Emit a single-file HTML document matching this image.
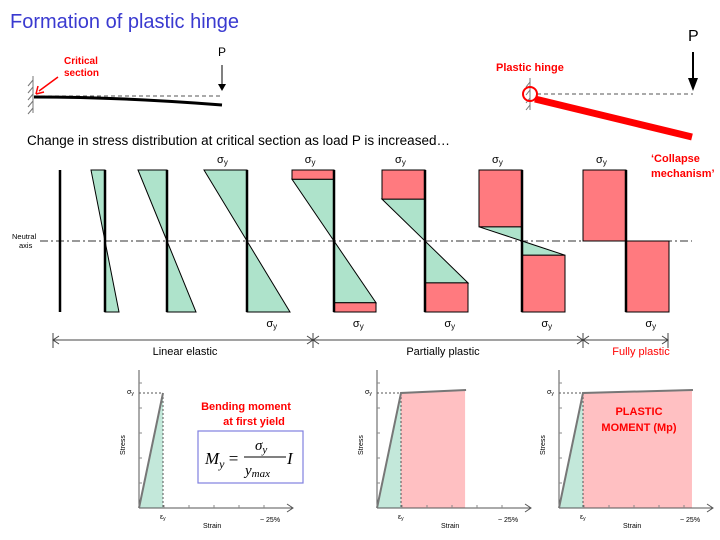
<!DOCTYPE html>
<html><head><meta charset="utf-8"><style>
body{margin:0;background:#fff}
svg{display:block;font-family:"Liberation Sans",sans-serif}
</style></head><body>
<svg id="s" width="720" height="540" viewBox="0 0 720 540">
<text x="10" y="28" font-size="20" fill="#3a3ad0">Formation of plastic hinge</text>
<g>
<line x1="33" y1="76" x2="33" y2="113" stroke="#777" stroke-width="1"/>
<path d="M33,80l-5,6M33,87l-5,6M33,94l-5,6M33,101l-5,6M33,108l-5,6" stroke="#777"/>
<line x1="34" y1="96" x2="222" y2="96" stroke="#555" stroke-dasharray="4,3"/>
<path d="M34,97 Q120,97 222,105" stroke="#000" stroke-width="3" fill="none"/>
<line x1="222" y1="65" x2="222" y2="86" stroke="#000"/><path d="M218,84 L222,91 L226,84Z"/>
<text x="218" y="56" font-size="12">P</text>
<text x="64" y="64" font-size="10" fill="#f00" font-weight="bold">Critical</text>
<text x="64" y="76" font-size="10" fill="#f00" font-weight="bold">section</text>
<line x1="58" y1="77" x2="39" y2="91" stroke="#f00" stroke-width="1.5"/><path d="M36,94 L38,86 M36,94 L44,92" stroke="#f00" stroke-width="1.5"/>
</g>
<g>
<line x1="530" y1="78" x2="530" y2="110" stroke="#777"/>
<path d="M530,82l-4,5M530,90l-4,5M530,98l-4,5M530,105l-4,5" stroke="#777"/>
<line x1="537" y1="94" x2="693" y2="94" stroke="#555" stroke-dasharray="4,3"/>
<line x1="535" y1="99" x2="692" y2="137" stroke="#f00" stroke-width="7"/>
<circle cx="530" cy="94" r="7" fill="none" stroke="#f00" stroke-width="2"/>
<line x1="693" y1="52" x2="693" y2="80" stroke="#000" stroke-width="2"/><path d="M688,78 L693,91 L698,78Z"/>
<text x="688" y="41" font-size="16">P</text>
<text x="496" y="71" font-size="11" fill="#f00" font-weight="bold">Plastic hinge</text>
<text x="651" y="162" font-size="11" fill="#f00" font-weight="bold">‘Collapse</text>
<text x="651" y="177" font-size="11" fill="#f00" font-weight="bold">mechanism’</text>
</g>
<text x="27" y="145" font-size="13.5" fill="#000">Change in stress distribution at critical section as load P is increased…</text>
<g id="stress"></g>
<g id="charts"></g>
</svg>
<script>
const axisX=[105,167,247,334,425,522,626];
const peakWidth=[14,29,43,42,43,43,43];
const plasticDepth=[0,0,0,0.13,0.41,0.8,1.0];
const showSigma=[false,false,true,true,true,true,true];
const chartOrigin=[139,377,559];
const yieldStrain=[1,1,1];
const plateauEnd=[0,3.67,5.54];
const ns='http://www.w3.org/2000/svg';
function mk(p,t,a){const e=document.createElementNS(ns,t);for(const k in a)e.setAttribute(k,a[k]);p.appendChild(e);return e;}
const S=document.getElementById('stress');
const sTop=170,sBot=312,na=241,half=71;
mk(S,'line',{x1:40,y1:na,x2:692,y2:na,stroke:'#333','stroke-dasharray':'8,3,2,3'});
mk(S,'line',{x1:60,y1:sTop,x2:60,y2:sBot,stroke:'#000','stroke-width':2.5});
const t1=mk(S,'text',{x:12,y:239,'font-size':7.5});t1.textContent='Neutral';
const t2=mk(S,'text',{x:19,y:248,'font-size':7.5});t2.textContent='axis';
const G='#aee3cb',R='#ff7a7f';
axisX.forEach((x,i)=>{
 const w=peakWidth[i],d=plasticDepth[i];
 const g=mk(S,'g',{});
 
 
 const yT=na-half*(1-d), yb=na+half*(1-d);
 if(d<1){
  mk(g,'polygon',{points:`${x-w},${yT} ${x},${yT} ${x},${na}`,fill:G,stroke:'#000','stroke-width':1});
  mk(g,'polygon',{points:`${x},${na} ${x},${yb} ${x+w},${yb}`,fill:G,stroke:'#000','stroke-width':1});
 }
 if(d>0){
  mk(g,'rect',{x:x-w,y:sTop,width:w,height:yT-sTop,fill:R,stroke:'#000','stroke-width':1});
  mk(g,'rect',{x:x,y:yb,width:w,height:sBot-yb,fill:R,stroke:'#000','stroke-width':1});
 }
 mk(g,'line',{x1:x,y1:sTop,x2:x,y2:sBot,stroke:'#000','stroke-width':2.5});
 if(showSigma[i]){
  const a=mk(g,'text',{x:x-w-2+w*0.35,y:163,'font-size':11});a.innerHTML='σ<tspan font-size="8" dy="2">y</tspan>';
  const b=mk(g,'text',{x:x+w*0.45,y:327,'font-size':11});b.innerHTML='σ<tspan font-size="8" dy="2">y</tspan>';
 }
});
mk(S,'line',{x1:53,y1:340,x2:668,y2:340,stroke:'#444'});
[53,313,583,668].forEach(x=>mk(S,'line',{x1:x,y1:333,x2:x,y2:348,stroke:'#444'}));
[[53,1],[313,-1],[313,1],[583,-1],[583,1],[668,-1]].forEach(([x,s])=>mk(S,'path',{d:`M${x+6*s},336 L${x},340 L${x+6*s},344`,stroke:'#444',fill:'none'}));
[['Linear elastic',185,'#000'],['Partially plastic',443,'#000'],['Fully plastic',641,'#f00']].forEach(([t,x,c])=>{const e=mk(S,'text',{x:x,y:355,'font-size':11,'text-anchor':'middle',fill:c});e.textContent=t;});
const C=document.getElementById('charts');
const oy=508,sy=393,ex=24;
chartOrigin.forEach((ox,i)=>{
 const g=mk(C,'g',{});
 
 
 const yx=ox+ex*yieldStrain[i], px=ox+ex*plateauEnd[i];
 mk(g,'polygon',{points:`${ox},${oy} ${yx},${sy} ${yx},${oy}`,fill:'#c3e8da'});
 if(plateauEnd[i]>0){mk(g,'polygon',{points:`${yx},${sy} ${px},${sy-2} ${px},${oy} ${yx},${oy}`,fill:'#ffc0c2'});}
 mk(g,'line',{x1:ox,y1:370,x2:ox,y2:oy,stroke:'#555'});
 mk(g,'line',{x1:ox,y1:oy,x2:ox+154,y2:oy,stroke:'#555'});
 mk(g,'path',{d:`M${ox+148},${oy-4} L${ox+154},${oy} L${ox+148},${oy+4}`,stroke:'#555',fill:'none'});
 for(let k=1;k<=5;k++){mk(g,'line',{x1:ox,y1:oy-25*k,x2:ox+3,y2:oy-25*k,stroke:'#888'});mk(g,'line',{x1:ox+25*k,y1:oy,x2:ox+25*k,y2:oy-3,stroke:'#888'});}
 mk(g,'line',{x1:ox,y1:sy,x2:yx,y2:sy,stroke:'#555','stroke-dasharray':'2,2'});
 mk(g,'line',{x1:yx,y1:sy,x2:yx,y2:oy,stroke:'#555','stroke-dasharray':'2,2'});
 mk(g,'polyline',{points:`${ox},${oy} ${yx},${sy}`+(plateauEnd[i]>0?` ${px+1},${sy-3}`:''),stroke:'#777','stroke-width':2,fill:'none'});
 const a=mk(g,'text',{x:ox-12,y:sy+1,'font-size':7});a.innerHTML='σ<tspan font-size="5" dy="1">y</tspan>';
 const b=mk(g,'text',{x:yx-3,y:oy+11,'font-size':7});b.innerHTML='ε<tspan font-size="5" dy="1">y</tspan>';
 const c=mk(g,'text',{x:ox+64,y:oy+20,'font-size':7});c.textContent='Strain';
 const d=mk(g,'text',{x:ox+121,y:oy+14,'font-size':7});d.textContent='~ 25%';
 const e=mk(g,'text',{x:ox-14,y:455,'font-size':7,transform:`rotate(-90 ${ox-14} 455)`});e.textContent='Stress';
});
</script>
<svg style="position:absolute;left:0;top:0" width="720" height="540">
<text x="246" y="410" font-size="11" fill="#f00" font-weight="bold" text-anchor="middle" font-family="Liberation Sans">Bending moment</text>
<text x="254" y="425" font-size="11" fill="#f00" font-weight="bold" text-anchor="middle" font-family="Liberation Sans">at first yield</text>
<rect x="198" y="431" width="105" height="52" fill="#fff" stroke="#8080e0" stroke-width="1.2"/>
<g font-family="Liberation Serif" font-style="italic">
<text x="205" y="464" font-size="17">M<tspan font-size="12" dy="4">y</tspan><tspan dy="-4" font-style="normal"> =</tspan></text>
<text x="255" y="450" font-size="15">σ<tspan font-size="11" dy="3">y</tspan></text>
<line x1="244" y1="457" x2="286" y2="457" stroke="#000"/>
<text x="245" y="475" font-size="15">y<tspan font-size="11" dy="2">max</tspan></text>
<text x="287" y="464" font-size="17">I</text>
</g>
<text x="639" y="415" font-size="11" fill="#f00" font-weight="bold" text-anchor="middle" font-family="Liberation Sans">PLASTIC</text>
<text x="639" y="431" font-size="11" fill="#f00" font-weight="bold" text-anchor="middle" font-family="Liberation Sans">MOMENT (Mp)</text>
</svg>
</body></html>
